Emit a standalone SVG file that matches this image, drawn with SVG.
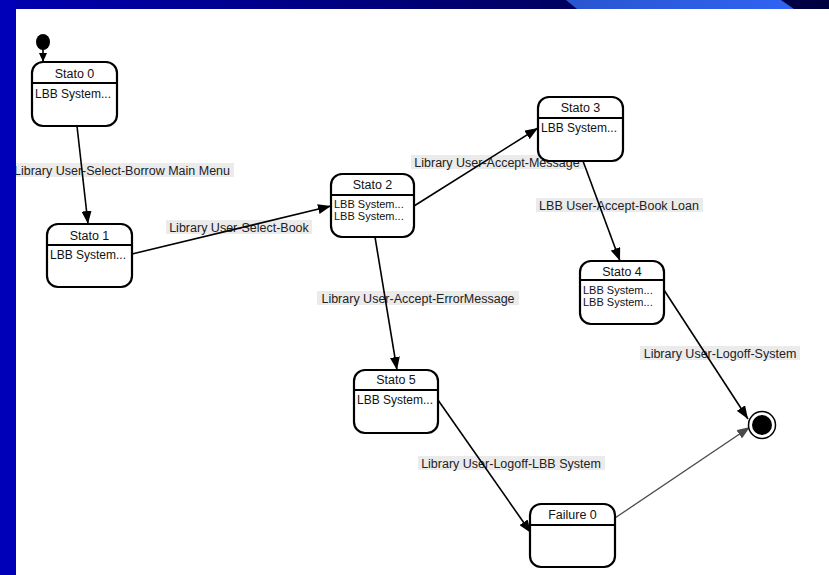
<svg xmlns="http://www.w3.org/2000/svg" width="829" height="575" viewBox="0 0 829 575">
  <defs>
    <linearGradient id="topBand" x1="0" y1="0" x2="1" y2="0">
      <stop offset="0" stop-color="#0000b0"/>
      <stop offset="0.6" stop-color="#00006a"/>
      <stop offset="1" stop-color="#000040"/>
    </linearGradient>
    <linearGradient id="tab" x1="0" y1="0" x2="1" y2="0">
      <stop offset="0" stop-color="#2a55d0"/>
      <stop offset="1" stop-color="#2f63f2"/>
    </linearGradient>
    <marker id="arrow" markerUnits="userSpaceOnUse" markerWidth="14" markerHeight="10" refX="13" refY="5" orient="auto">
      <path d="M0,0 L13,5 L0,10 Z" fill="#000"/>
    </marker>
    <marker id="arrowGray" markerUnits="userSpaceOnUse" markerWidth="14" markerHeight="10" refX="13" refY="5" orient="auto">
      <path d="M0,0 L13,5 L0,10 Z" fill="#4a4a4a"/>
    </marker>
    <marker id="arrowSmall" markerUnits="userSpaceOnUse" markerWidth="10" markerHeight="8" refX="9" refY="4" orient="auto">
      <path d="M0,0 L9,4 L0,8 Z" fill="#000"/>
    </marker>
  </defs>
  <style>
    text { font-family: "Liberation Sans", Arial, sans-serif; font-size: 12.5px; fill: #111; }
    .state { fill: #fff; stroke: #000; stroke-width: 2.2; }
    .sep { stroke: #000; stroke-width: 2; }
    .title { text-anchor: middle; }
    .body { font-size: 12px; }
    .body2 { font-size: 11px; }
    .edge { fill: none; stroke: #000; stroke-width: 1.6; marker-end: url(#arrow); }
    .edge-gray { fill: none; stroke: #4a4a4a; stroke-width: 1.3; marker-end: url(#arrowGray); }
    .lbl-bg { fill: #ebebeb; }
    .lbl { text-anchor: middle; fill: #222; }
  </style>

  <!-- canvas -->
  <rect x="0" y="0" width="829" height="575" fill="#ffffff"/>

  <!-- transition labels (lines are drawn over them) -->
  <g id="labels">
    <rect class="lbl-bg" x="11" y="163" width="223" height="14"/>
    <text class="lbl" x="122" y="174.5">Library User-Select-Borrow Main Menu</text>
    <rect class="lbl-bg" x="166" y="220" width="146" height="14"/>
    <text class="lbl" x="239" y="231.5">Library User-Select-Book</text>
    <rect class="lbl-bg" x="411" y="155" width="173" height="14"/>
    <text class="lbl" x="497" y="166.5">Library User-Accept-Message</text>
    <rect class="lbl-bg" x="536" y="198" width="167" height="14"/>
    <text class="lbl" x="619" y="209.5">LBB User-Accept-Book Loan</text>
    <rect class="lbl-bg" x="317" y="291" width="202" height="14"/>
    <text class="lbl" x="418" y="302.5">Library User-Accept-ErrorMessage</text>
    <rect class="lbl-bg" x="640" y="346" width="160" height="14"/>
    <text class="lbl" x="720" y="357.5">Library User-Logoff-System</text>
    <rect class="lbl-bg" x="418" y="456" width="187" height="14"/>
    <text class="lbl" x="511" y="467.5">Library User-Logoff-LBB System</text>
  </g>

  <!-- transitions -->
  <g id="connectors">
    <line x1="43" y1="49" x2="43" y2="62" stroke="#000" stroke-width="1.6" marker-end="url(#arrowSmall)"/>
    <line class="edge" x1="77" y1="126" x2="88" y2="224"/>
    <line class="edge" x1="132" y1="254" x2="331" y2="206"/>
    <line class="edge" x1="414" y1="206" x2="538" y2="128"/>
    <line class="edge" x1="583" y1="161" x2="620" y2="261"/>
    <line class="edge" x1="375" y1="237" x2="397" y2="370"/>
    <line class="edge" x1="664" y1="290" x2="748" y2="419"/>
    <line class="edge" x1="438" y1="400" x2="531" y2="533"/>
    <line class="edge-gray" x1="612" y1="520" x2="750" y2="427"/>
  </g>

  <!-- pseudo states -->
  <g id="initial">
    <ellipse cx="43" cy="42" rx="7" ry="8" fill="#000"/>
  </g>
  <g id="final">
    <circle cx="762" cy="425" r="13.5" fill="#fff" stroke="#000" stroke-width="1.5"/>
    <circle cx="762" cy="425" r="10" fill="#000"/>
  </g>

  <!-- states -->
  <g id="stato0">
    <rect class="state" x="32" y="62" width="85" height="64" rx="11"/>
    <line class="sep" x1="32" y1="83" x2="117" y2="83"/>
    <text class="title" x="74.5" y="78">Stato 0</text>
    <text class="body" x="35" y="98">LBB System...</text>
  </g>
  <g id="stato1">
    <rect class="state" x="47" y="224" width="85" height="63" rx="11"/>
    <line class="sep" x1="47" y1="245" x2="132" y2="245"/>
    <text class="title" x="89.5" y="240">Stato 1</text>
    <text class="body" x="50" y="259">LBB System...</text>
  </g>
  <g id="stato2">
    <rect class="state" x="331" y="174" width="83" height="63" rx="11"/>
    <line class="sep" x1="331" y1="195" x2="414" y2="195"/>
    <text class="title" x="372.5" y="189">Stato 2</text>
    <text class="body2" x="334" y="208">LBB System...</text>
    <text class="body2" x="334" y="220">LBB System...</text>
  </g>
  <g id="stato3">
    <rect class="state" x="538" y="97" width="85" height="64" rx="11"/>
    <line class="sep" x1="538" y1="118" x2="623" y2="118"/>
    <text class="title" x="580.5" y="112">Stato 3</text>
    <text class="body" x="541" y="132">LBB System...</text>
  </g>
  <g id="stato4">
    <rect class="state" x="580" y="261" width="84" height="63" rx="11"/>
    <line class="sep" x1="580" y1="280" x2="664" y2="280"/>
    <text class="title" x="622" y="276">Stato 4</text>
    <text class="body2" x="583" y="294">LBB System...</text>
    <text class="body2" x="583" y="306">LBB System...</text>
  </g>
  <g id="stato5">
    <rect class="state" x="354" y="370" width="84" height="63" rx="11"/>
    <line class="sep" x1="354" y1="390" x2="438" y2="390"/>
    <text class="title" x="396" y="384">Stato 5</text>
    <text class="body" x="357" y="404">LBB System...</text>
  </g>
  <g id="failure0">
    <rect class="state" x="530" y="504" width="85" height="63" rx="11"/>
    <line class="sep" x1="530" y1="525" x2="615" y2="525"/>
    <text class="title" x="572.5" y="519">Failure 0</text>
  </g>

  <!-- slide frame -->
  <rect x="0" y="0" width="829" height="9" fill="url(#topBand)"/>
  <polygon points="566,0 781,0 794,9 577,9" fill="url(#tab)"/>
  <rect x="0" y="0" width="16" height="575" fill="#0000b8"/>
</svg>
